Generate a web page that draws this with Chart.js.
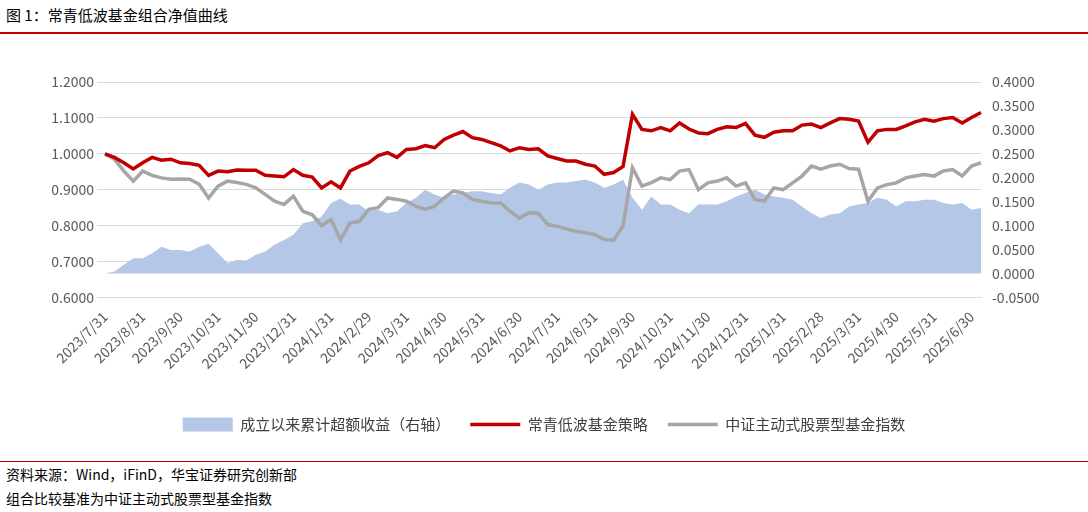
<!DOCTYPE html>
<html><head><meta charset="utf-8">
<script src="https://cdn.jsdelivr.net/npm/chart.js@4"></script>
<style>
body{margin:0;width:1088px;height:512px;background:#fff;font-family:"Noto Sans CJK SC",sans-serif;position:relative;overflow:hidden}
#t{position:absolute;left:6px;top:4px;font-size:15px;color:#000}
#r1{position:absolute;left:0;top:32px;width:1088px;height:2px;background:#c00000}
#r2{position:absolute;left:0;top:461px;width:1088px;height:1px;background:#c00000}
.f{position:absolute;left:6px;font-size:14px;color:#000}
#c{position:absolute;left:0;top:0}
</style></head><body>
<div id="t">图 1：常青低波基金组合净值曲线</div>
<div id="r1"></div>
<canvas id="c" width="1088" height="450"></canvas>
<div id="r2"></div>
<div class="f" style="top:464px">资料来源：Wind，iFinD，华宝证券研究创新部</div>
<div class="f" style="top:488px">组合比较基准为中证主动式股票型基金指数</div>
<script>
const monthLabels=["2023/7/31","2023/8/31","2023/9/30","2023/10/31","2023/11/30","2023/12/31","2024/1/31","2024/2/29","2024/3/31","2024/4/30","2024/5/31","2024/6/30","2024/7/31","2024/8/31","2024/9/30","2024/10/31","2024/11/30","2024/12/31","2025/1/31","2025/2/28","2025/3/31","2025/4/30","2025/5/31","2025/6/30"];
const strategy=[1.000,0.990,0.975,0.958,0.975,0.990,0.982,0.985,0.975,0.973,0.968,0.940,0.952,0.950,0.955,0.954,0.954,0.940,0.938,0.936,0.956,0.940,0.935,0.905,0.922,0.905,0.952,0.965,0.975,0.995,1.003,
0.990,1.012,1.014,1.023,1.017,1.040,1.052,1.062,1.045,1.040,1.031,1.022,1.008,1.017,1.012,1.014,0.994,0.987,0.980,0.980,0.971,0.966,0.943,0.948,0.965,1.110,1.068,1.064,1.073,1.064,
1.086,1.069,1.058,1.056,1.068,1.075,1.073,1.085,1.052,1.046,1.060,1.064,1.064,1.080,1.083,1.073,1.086,1.098,1.096,1.091,1.032,1.064,1.068,1.068,1.078,1.089,1.096,1.091,1.098,1.101,1.086,1.101,1.115];
const benchmark=[1.000,0.985,0.952,0.924,0.952,0.940,0.933,0.929,0.930,0.929,0.915,0.877,0.910,0.924,0.920,0.915,0.905,0.887,0.868,0.859,0.882,0.840,0.830,0.800,0.817,0.760,0.807,0.812,0.845,0.850,0.877,
0.873,0.868,0.854,0.845,0.854,0.877,0.896,0.891,0.873,0.868,0.863,0.863,0.840,0.821,0.836,0.834,0.803,0.798,0.791,0.784,0.780,0.775,0.761,0.759,0.800,0.961,0.910,0.920,0.933,0.928,
0.952,0.956,0.900,0.919,0.924,0.933,0.910,0.919,0.873,0.868,0.905,0.900,0.919,0.938,0.966,0.957,0.966,0.971,0.959,0.957,0.868,0.905,0.914,0.919,0.933,0.938,0.942,0.938,0.952,0.956,0.938,0.966,0.975];
const excess=[0.000,0.004,0.018,0.032,0.032,0.042,0.056,0.049,0.049,0.046,0.056,0.062,0.042,0.022,0.028,0.027,0.039,0.046,0.060,0.070,0.081,0.105,0.109,0.119,0.147,0.156,0.144,0.144,0.130,0.133,0.126,
0.130,0.147,0.158,0.175,0.165,0.158,0.165,0.168,0.172,0.172,0.168,0.165,0.179,0.190,0.186,0.175,0.186,0.190,0.190,0.193,0.196,0.190,0.179,0.186,0.196,0.158,0.133,0.161,0.144,0.144,
0.133,0.126,0.144,0.144,0.144,0.151,0.161,0.168,0.175,0.165,0.161,0.158,0.154,0.140,0.126,0.116,0.123,0.126,0.140,0.144,0.147,0.158,0.154,0.140,0.151,0.151,0.154,0.154,0.147,0.144,0.147,0.133,0.137];
const labels=strategy.map((_,i)=>i%4===0&&monthLabels[i/4]?monthLabels[i/4]:"");
const tickFont={family:"'Noto Sans CJK SC',sans-serif",size:14};
new Chart(document.getElementById('c'),{
data:{labels,datasets:[
{type:'line',label:'成立以来累计超额收益（右轴）',data:excess,yAxisID:'y2',fill:'origin',backgroundColor:'#b4c7e7',borderWidth:0,pointRadius:0,tension:0,pointStyle:'rect',order:3},
{type:'line',label:'常青低波基金策略',data:strategy,yAxisID:'y',borderColor:'#c00000',backgroundColor:'#c00000',borderWidth:3.5,pointRadius:0,tension:0,pointStyle:'line',order:1},
{type:'line',label:'中证主动式股票型基金指数',data:benchmark,yAxisID:'y',borderColor:'#a6a6a6',backgroundColor:'#a6a6a6',borderWidth:3.5,pointRadius:0,tension:0,pointStyle:'line',order:2}
]},
options:{responsive:false,animation:false,
layout:{padding:{top:82,left:0,right:0,bottom:8}},
plugins:{legend:{position:'bottom',labels:{sort:(a,b)=>a.datasetIndex-b.datasetIndex,usePointStyle:true,pointStyleWidth:50,boxHeight:14,color:'#404040',font:{family:"'Noto Sans CJK SC',sans-serif",size:15},padding:20}},tooltip:{enabled:false}},
scales:{
x:{offset:false,grid:{display:false,drawTicks:true},border:{color:'#d9d9d9'},ticks:{autoSkip:false,maxRotation:45,minRotation:45,color:'#595959',font:tickFont,callback:function(v){return labels[v];}},
 afterFit:s=>{s.height+=22;}},
y:{position:'left',min:0.6,max:1.2,ticks:{stepSize:0.1,color:'#595959',font:tickFont,callback:v=>v.toFixed(4)},grid:{color:'#d9d9d9'},border:{display:false},afterFit:s=>{s.width=105;}},
y2:{position:'right',min:-0.05,max:0.4,ticks:{stepSize:0.05,color:'#595959',font:tickFont,callback:v=>v.toFixed(4)},grid:{display:false},border:{display:false},afterFit:s=>{s.width=107;}}
}}});
</script></body></html>
